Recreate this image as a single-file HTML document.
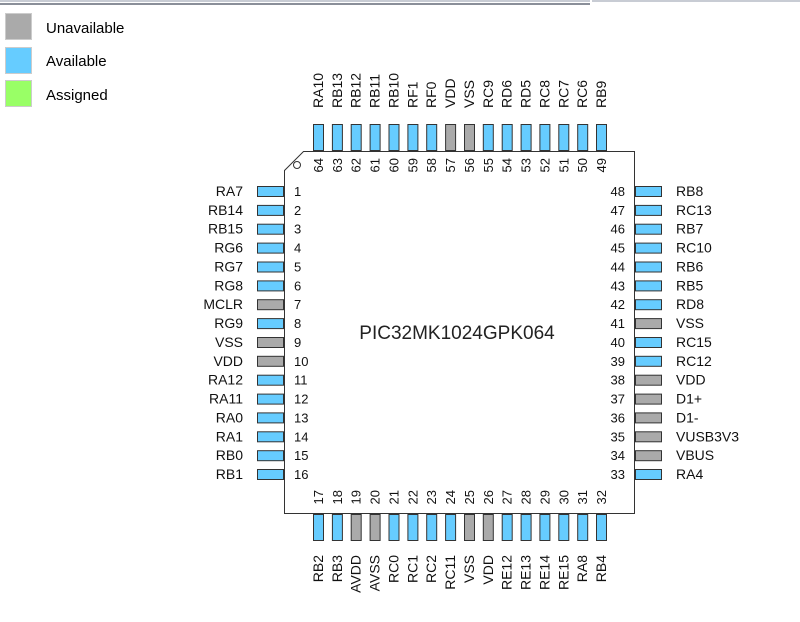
<!DOCTYPE html>
<html><head><style>
html,body{margin:0;padding:0;background:#fff;}
svg{display:block;font-family:"Liberation Sans",sans-serif;font-size:14px;}
.n{font-size:13px}
.b{fill:#66ccff;stroke:#333;stroke-width:1}
.g{fill:#aaaaaa;stroke:#333;stroke-width:1}
</style></head><body>
<svg width="800" height="622" viewBox="0 0 800 622">
<rect x="0" y="0" width="590" height="2" fill="#c8ccd4"/>
<rect x="0" y="3" width="590" height="2" fill="#8a8f99"/>
<rect x="592" y="0" width="208" height="2" fill="#c8ccd4"/>
<rect x="5.5" y="13.5" width="26" height="26" fill="#aaaaaa" stroke="#ccc"/>
<rect x="5.5" y="47.5" width="26" height="26" fill="#66ccff" stroke="#ccc"/>
<rect x="5.5" y="80.5" width="26" height="26" fill="#99ff66" stroke="#ccc"/>
<text x="46" y="33" font-size="15">Unavailable</text>
<text x="46" y="66" font-size="15">Available</text>
<text x="46" y="100" font-size="15">Assigned</text>

<polygon points="303.5,151.5 634.5,151.5 634.5,513.5 284.5,513.5 284.5,170.5" fill="#fff" stroke="#333"/>
<circle cx="297" cy="165" r="3.5" fill="none" stroke="#333"/>
<text x="457" y="339" font-size="19" text-anchor="middle" fill="#222">PIC32MK1024GPK064</text>

<!-- Left -->
<g fill="#111">
<g transform="translate(0,191)"><rect class="b" x="257.5" y="-4.5" width="26" height="10"/><text x="243" y="5" text-anchor="end">RA7</text><text class="n" x="294" y="5">1</text></g>
<g transform="translate(0,209.9)"><rect class="b" x="257.5" y="-4.5" width="26" height="10"/><text x="243" y="5" text-anchor="end">RB14</text><text class="n" x="294" y="5">2</text></g>
<g transform="translate(0,228.7)"><rect class="b" x="257.5" y="-4.5" width="26" height="10"/><text x="243" y="5" text-anchor="end">RB15</text><text class="n" x="294" y="5">3</text></g>
<g transform="translate(0,247.6)"><rect class="b" x="257.5" y="-4.5" width="26" height="10"/><text x="243" y="5" text-anchor="end">RG6</text><text class="n" x="294" y="5">4</text></g>
<g transform="translate(0,266.5)"><rect class="b" x="257.5" y="-4.5" width="26" height="10"/><text x="243" y="5" text-anchor="end">RG7</text><text class="n" x="294" y="5">5</text></g>
<g transform="translate(0,285.4)"><rect class="b" x="257.5" y="-4.5" width="26" height="10"/><text x="243" y="5" text-anchor="end">RG8</text><text class="n" x="294" y="5">6</text></g>
<g transform="translate(0,304.2)"><rect class="g" x="257.5" y="-4.5" width="26" height="10"/><text x="243" y="5" text-anchor="end">MCLR</text><text class="n" x="294" y="5">7</text></g>
<g transform="translate(0,323.1)"><rect class="b" x="257.5" y="-4.5" width="26" height="10"/><text x="243" y="5" text-anchor="end">RG9</text><text class="n" x="294" y="5">8</text></g>
<g transform="translate(0,342)"><rect class="g" x="257.5" y="-4.5" width="26" height="10"/><text x="243" y="5" text-anchor="end">VSS</text><text class="n" x="294" y="5">9</text></g>
<g transform="translate(0,360.8)"><rect class="g" x="257.5" y="-4.5" width="26" height="10"/><text x="243" y="5" text-anchor="end">VDD</text><text class="n" x="294" y="5">10</text></g>
<g transform="translate(0,379.7)"><rect class="b" x="257.5" y="-4.5" width="26" height="10"/><text x="243" y="5" text-anchor="end">RA12</text><text class="n" x="294" y="5">11</text></g>
<g transform="translate(0,398.6)"><rect class="b" x="257.5" y="-4.5" width="26" height="10"/><text x="243" y="5" text-anchor="end">RA11</text><text class="n" x="294" y="5">12</text></g>
<g transform="translate(0,417.4)"><rect class="b" x="257.5" y="-4.5" width="26" height="10"/><text x="243" y="5" text-anchor="end">RA0</text><text class="n" x="294" y="5">13</text></g>
<g transform="translate(0,436.3)"><rect class="b" x="257.5" y="-4.5" width="26" height="10"/><text x="243" y="5" text-anchor="end">RA1</text><text class="n" x="294" y="5">14</text></g>
<g transform="translate(0,455.2)"><rect class="b" x="257.5" y="-4.5" width="26" height="10"/><text x="243" y="5" text-anchor="end">RB0</text><text class="n" x="294" y="5">15</text></g>
<g transform="translate(0,474)"><rect class="b" x="257.5" y="-4.5" width="26" height="10"/><text x="243" y="5" text-anchor="end">RB1</text><text class="n" x="294" y="5">16</text></g>
</g>

<!-- Right -->
<g fill="#111">
<g transform="translate(0,191)"><rect class="b" x="635.5" y="-4.5" width="26" height="10"/><text x="676" y="5">RB8</text><text class="n" x="625" y="5" text-anchor="end">48</text></g>
<g transform="translate(0,209.9)"><rect class="b" x="635.5" y="-4.5" width="26" height="10"/><text x="676" y="5">RC13</text><text class="n" x="625" y="5" text-anchor="end">47</text></g>
<g transform="translate(0,228.7)"><rect class="b" x="635.5" y="-4.5" width="26" height="10"/><text x="676" y="5">RB7</text><text class="n" x="625" y="5" text-anchor="end">46</text></g>
<g transform="translate(0,247.6)"><rect class="b" x="635.5" y="-4.5" width="26" height="10"/><text x="676" y="5">RC10</text><text class="n" x="625" y="5" text-anchor="end">45</text></g>
<g transform="translate(0,266.5)"><rect class="b" x="635.5" y="-4.5" width="26" height="10"/><text x="676" y="5">RB6</text><text class="n" x="625" y="5" text-anchor="end">44</text></g>
<g transform="translate(0,285.4)"><rect class="b" x="635.5" y="-4.5" width="26" height="10"/><text x="676" y="5">RB5</text><text class="n" x="625" y="5" text-anchor="end">43</text></g>
<g transform="translate(0,304.2)"><rect class="b" x="635.5" y="-4.5" width="26" height="10"/><text x="676" y="5">RD8</text><text class="n" x="625" y="5" text-anchor="end">42</text></g>
<g transform="translate(0,323.1)"><rect class="g" x="635.5" y="-4.5" width="26" height="10"/><text x="676" y="5">VSS</text><text class="n" x="625" y="5" text-anchor="end">41</text></g>
<g transform="translate(0,342)"><rect class="b" x="635.5" y="-4.5" width="26" height="10"/><text x="676" y="5">RC15</text><text class="n" x="625" y="5" text-anchor="end">40</text></g>
<g transform="translate(0,360.8)"><rect class="b" x="635.5" y="-4.5" width="26" height="10"/><text x="676" y="5">RC12</text><text class="n" x="625" y="5" text-anchor="end">39</text></g>
<g transform="translate(0,379.7)"><rect class="g" x="635.5" y="-4.5" width="26" height="10"/><text x="676" y="5">VDD</text><text class="n" x="625" y="5" text-anchor="end">38</text></g>
<g transform="translate(0,398.6)"><rect class="g" x="635.5" y="-4.5" width="26" height="10"/><text x="676" y="5">D1+</text><text class="n" x="625" y="5" text-anchor="end">37</text></g>
<g transform="translate(0,417.4)"><rect class="g" x="635.5" y="-4.5" width="26" height="10"/><text x="676" y="5">D1-</text><text class="n" x="625" y="5" text-anchor="end">36</text></g>
<g transform="translate(0,436.3)"><rect class="g" x="635.5" y="-4.5" width="26" height="10"/><text x="676" y="5">VUSB3V3</text><text class="n" x="625" y="5" text-anchor="end">35</text></g>
<g transform="translate(0,455.2)"><rect class="g" x="635.5" y="-4.5" width="26" height="10"/><text x="676" y="5">VBUS</text><text class="n" x="625" y="5" text-anchor="end">34</text></g>
<g transform="translate(0,474)"><rect class="b" x="635.5" y="-4.5" width="26" height="10"/><text x="676" y="5">RA4</text><text class="n" x="625" y="5" text-anchor="end">33</text></g>
</g>

<!-- Top -->
<g fill="#111">
<g transform="translate(318,0)"><rect class="b" x="-4.5" y="124.5" width="10" height="26"/><text transform="translate(5,108) rotate(-90)">RA10</text><text class="n" transform="translate(5,158) rotate(-90)" text-anchor="end">64</text></g>
<g transform="translate(336.9,0)"><rect class="b" x="-4.5" y="124.5" width="10" height="26"/><text transform="translate(5,108) rotate(-90)">RB13</text><text class="n" transform="translate(5,158) rotate(-90)" text-anchor="end">63</text></g>
<g transform="translate(355.7,0)"><rect class="b" x="-4.5" y="124.5" width="10" height="26"/><text transform="translate(5,108) rotate(-90)">RB12</text><text class="n" transform="translate(5,158) rotate(-90)" text-anchor="end">62</text></g>
<g transform="translate(374.6,0)"><rect class="b" x="-4.5" y="124.5" width="10" height="26"/><text transform="translate(5,108) rotate(-90)">RB11</text><text class="n" transform="translate(5,158) rotate(-90)" text-anchor="end">61</text></g>
<g transform="translate(393.5,0)"><rect class="b" x="-4.5" y="124.5" width="10" height="26"/><text transform="translate(5,108) rotate(-90)">RB10</text><text class="n" transform="translate(5,158) rotate(-90)" text-anchor="end">60</text></g>
<g transform="translate(412.4,0)"><rect class="b" x="-4.5" y="124.5" width="10" height="26"/><text transform="translate(5,108) rotate(-90)">RF1</text><text class="n" transform="translate(5,158) rotate(-90)" text-anchor="end">59</text></g>
<g transform="translate(431.2,0)"><rect class="b" x="-4.5" y="124.5" width="10" height="26"/><text transform="translate(5,108) rotate(-90)">RF0</text><text class="n" transform="translate(5,158) rotate(-90)" text-anchor="end">58</text></g>
<g transform="translate(450.1,0)"><rect class="g" x="-4.5" y="124.5" width="10" height="26"/><text transform="translate(5,108) rotate(-90)">VDD</text><text class="n" transform="translate(5,158) rotate(-90)" text-anchor="end">57</text></g>
<g transform="translate(469,0)"><rect class="g" x="-4.5" y="124.5" width="10" height="26"/><text transform="translate(5,108) rotate(-90)">VSS</text><text class="n" transform="translate(5,158) rotate(-90)" text-anchor="end">56</text></g>
<g transform="translate(487.8,0)"><rect class="b" x="-4.5" y="124.5" width="10" height="26"/><text transform="translate(5,108) rotate(-90)">RC9</text><text class="n" transform="translate(5,158) rotate(-90)" text-anchor="end">55</text></g>
<g transform="translate(506.7,0)"><rect class="b" x="-4.5" y="124.5" width="10" height="26"/><text transform="translate(5,108) rotate(-90)">RD6</text><text class="n" transform="translate(5,158) rotate(-90)" text-anchor="end">54</text></g>
<g transform="translate(525.6,0)"><rect class="b" x="-4.5" y="124.5" width="10" height="26"/><text transform="translate(5,108) rotate(-90)">RD5</text><text class="n" transform="translate(5,158) rotate(-90)" text-anchor="end">53</text></g>
<g transform="translate(544.4,0)"><rect class="b" x="-4.5" y="124.5" width="10" height="26"/><text transform="translate(5,108) rotate(-90)">RC8</text><text class="n" transform="translate(5,158) rotate(-90)" text-anchor="end">52</text></g>
<g transform="translate(563.3,0)"><rect class="b" x="-4.5" y="124.5" width="10" height="26"/><text transform="translate(5,108) rotate(-90)">RC7</text><text class="n" transform="translate(5,158) rotate(-90)" text-anchor="end">51</text></g>
<g transform="translate(582.2,0)"><rect class="b" x="-4.5" y="124.5" width="10" height="26"/><text transform="translate(5,108) rotate(-90)">RC6</text><text class="n" transform="translate(5,158) rotate(-90)" text-anchor="end">50</text></g>
<g transform="translate(601,0)"><rect class="b" x="-4.5" y="124.5" width="10" height="26"/><text transform="translate(5,108) rotate(-90)">RB9</text><text class="n" transform="translate(5,158) rotate(-90)" text-anchor="end">49</text></g>
</g>

<!-- Bottom -->
<g fill="#111">
<g transform="translate(318,0)"><rect class="b" x="-4.5" y="514.5" width="10" height="26"/><text transform="translate(5,555) rotate(-90)" text-anchor="end">RB2</text><text class="n" transform="translate(5,490) rotate(-90)" text-anchor="end">17</text></g>
<g transform="translate(336.9,0)"><rect class="b" x="-4.5" y="514.5" width="10" height="26"/><text transform="translate(5,555) rotate(-90)" text-anchor="end">RB3</text><text class="n" transform="translate(5,490) rotate(-90)" text-anchor="end">18</text></g>
<g transform="translate(355.7,0)"><rect class="g" x="-4.5" y="514.5" width="10" height="26"/><text transform="translate(5,555) rotate(-90)" text-anchor="end">AVDD</text><text class="n" transform="translate(5,490) rotate(-90)" text-anchor="end">19</text></g>
<g transform="translate(374.6,0)"><rect class="g" x="-4.5" y="514.5" width="10" height="26"/><text transform="translate(5,555) rotate(-90)" text-anchor="end">AVSS</text><text class="n" transform="translate(5,490) rotate(-90)" text-anchor="end">20</text></g>
<g transform="translate(393.5,0)"><rect class="b" x="-4.5" y="514.5" width="10" height="26"/><text transform="translate(5,555) rotate(-90)" text-anchor="end">RC0</text><text class="n" transform="translate(5,490) rotate(-90)" text-anchor="end">21</text></g>
<g transform="translate(412.4,0)"><rect class="b" x="-4.5" y="514.5" width="10" height="26"/><text transform="translate(5,555) rotate(-90)" text-anchor="end">RC1</text><text class="n" transform="translate(5,490) rotate(-90)" text-anchor="end">22</text></g>
<g transform="translate(431.2,0)"><rect class="b" x="-4.5" y="514.5" width="10" height="26"/><text transform="translate(5,555) rotate(-90)" text-anchor="end">RC2</text><text class="n" transform="translate(5,490) rotate(-90)" text-anchor="end">23</text></g>
<g transform="translate(450.1,0)"><rect class="b" x="-4.5" y="514.5" width="10" height="26"/><text transform="translate(5,555) rotate(-90)" text-anchor="end">RC11</text><text class="n" transform="translate(5,490) rotate(-90)" text-anchor="end">24</text></g>
<g transform="translate(469,0)"><rect class="g" x="-4.5" y="514.5" width="10" height="26"/><text transform="translate(5,555) rotate(-90)" text-anchor="end">VSS</text><text class="n" transform="translate(5,490) rotate(-90)" text-anchor="end">25</text></g>
<g transform="translate(487.8,0)"><rect class="g" x="-4.5" y="514.5" width="10" height="26"/><text transform="translate(5,555) rotate(-90)" text-anchor="end">VDD</text><text class="n" transform="translate(5,490) rotate(-90)" text-anchor="end">26</text></g>
<g transform="translate(506.7,0)"><rect class="b" x="-4.5" y="514.5" width="10" height="26"/><text transform="translate(5,555) rotate(-90)" text-anchor="end">RE12</text><text class="n" transform="translate(5,490) rotate(-90)" text-anchor="end">27</text></g>
<g transform="translate(525.6,0)"><rect class="b" x="-4.5" y="514.5" width="10" height="26"/><text transform="translate(5,555) rotate(-90)" text-anchor="end">RE13</text><text class="n" transform="translate(5,490) rotate(-90)" text-anchor="end">28</text></g>
<g transform="translate(544.4,0)"><rect class="b" x="-4.5" y="514.5" width="10" height="26"/><text transform="translate(5,555) rotate(-90)" text-anchor="end">RE14</text><text class="n" transform="translate(5,490) rotate(-90)" text-anchor="end">29</text></g>
<g transform="translate(563.3,0)"><rect class="b" x="-4.5" y="514.5" width="10" height="26"/><text transform="translate(5,555) rotate(-90)" text-anchor="end">RE15</text><text class="n" transform="translate(5,490) rotate(-90)" text-anchor="end">30</text></g>
<g transform="translate(582.2,0)"><rect class="b" x="-4.5" y="514.5" width="10" height="26"/><text transform="translate(5,555) rotate(-90)" text-anchor="end">RA8</text><text class="n" transform="translate(5,490) rotate(-90)" text-anchor="end">31</text></g>
<g transform="translate(601,0)"><rect class="b" x="-4.5" y="514.5" width="10" height="26"/><text transform="translate(5,555) rotate(-90)" text-anchor="end">RB4</text><text class="n" transform="translate(5,490) rotate(-90)" text-anchor="end">32</text></g>
</g>
</svg>
</body></html>
